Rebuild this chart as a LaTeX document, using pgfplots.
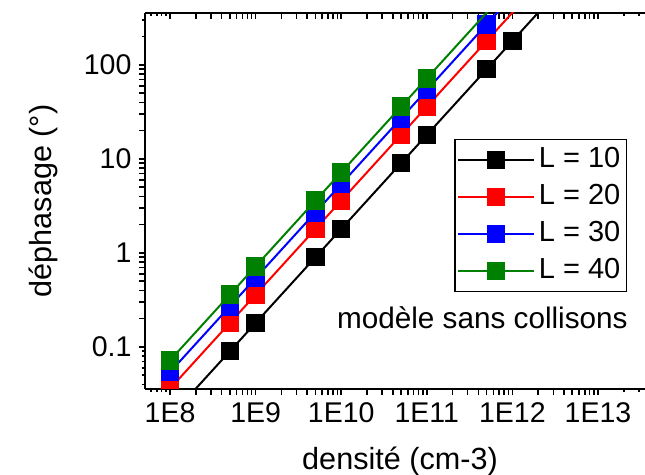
\documentclass[border=0pt]{standalone}
\usepackage{fontspec}
\setmainfont{Liberation Sans}
\usepackage{pgfplots}
\pgfplotsset{compat=1.18}

\definecolor{cgreen}{RGB}{0,128,0}
\newcommand\tl[1]{\mbox{\fontsize{14.25}{16}\selectfont #1}}

\pgfplotsset{
  every non boxed x axis/.append style={x axis line style=-},
  every non boxed y axis/.append style={y axis line style=-},
}

\begin{document}
\begin{tikzpicture}[font=\fontsize{14.25}{16}\selectfont]
% upper x line with inner ticks
\begin{axis}[
  axis x line=top, axis y line=none,
  xmode=log, ymode=log,
  scale only axis, width=250pt, height=188pt,
  xmin=5.1e7, xmax=3.54e13, ymin=0.0357, ymax=357,
  xtick={1e8,1e9,1e10,1e11,1e12,1e13},
  xticklabels={},
  extra x ticks={6e7,7e7,8e7,9e7,
    2e8,3e8,4e8,5e8,6e8,7e8,8e8,9e8,
    2e9,3e9,4e9,5e9,6e9,7e9,8e9,9e9,
    2e10,3e10,4e10,5e10,6e10,7e10,8e10,9e10,
    2e11,3e11,4e11,5e11,6e11,7e11,8e11,9e11,
    2e12,3e12,4e12,5e12,6e12,7e12,8e12,9e12,
    2e13,3e13},
  extra x tick labels={},
  extra x tick style={major tick length=1.75pt},
  major tick length=3.25pt,
  every tick/.style={black, line width=0.75pt},
  axis line style={-, line width=0.75pt},
  x axis line style={-},
  at={(0,0)}, anchor=south west,
  tick align=inside,
]
\end{axis}

\begin{axis}[
  axis x line=bottom, axis y line=left,
  xmode=log, ymode=log,
  scale only axis, width=250pt, height=188pt,
  xmin=5.1e7, xmax=3.54e13, ymin=0.0357, ymax=357,
  xtick={1e8,1e9,1e10,1e11,1e12,1e13},
  xticklabels={\tl{1E8},\tl{1E9},\tl{1E10},\tl{1E11},\tl{1E12},\tl{1E13}},
  extra x ticks={6e7,7e7,8e7,9e7,
    2e8,3e8,4e8,5e8,6e8,7e8,8e8,9e8,
    2e9,3e9,4e9,5e9,6e9,7e9,8e9,9e9,
    2e10,3e10,4e10,5e10,6e10,7e10,8e10,9e10,
    2e11,3e11,4e11,5e11,6e11,7e11,8e11,9e11,
    2e12,3e12,4e12,5e12,6e12,7e12,8e12,9e12,
    2e13,3e13},
  extra x tick labels={},
  extra x tick style={major tick length=1.75pt},
  ytick={0.1,1,10,100},
  yticklabels={\tl{0.1},\tl{1},\tl{10},\tl{100}},
  extra y ticks={0.04,0.05,0.06,0.07,0.08,0.09,
    0.2,0.3,0.4,0.5,0.6,0.7,0.8,0.9,
    2,3,4,5,6,7,8,9,
    20,30,40,50,60,70,80,90,
    200,300},
  extra y tick labels={},
  extra y tick style={major tick length=1.75pt},
  major tick length=3.25pt,
  every tick/.style={black, line width=0.75pt},
  axis line style={-, line width=0.75pt},
  x axis line style={-}, y axis line style={-},
  at={(0,0)}, anchor=south west,
  tick align=outside,
  xlabel={densité (cm-3)},
  ylabel={déphasage (°)},
  every axis x label/.style={at={(rel axis cs:0.51,0)}, yshift=-36pt, anchor=center,
    font=\fontsize{15.3}{17}\selectfont},
  every axis y label/.style={at={(rel axis cs:0,0.5)}, xshift=-51pt, rotate=90, anchor=center,
    font=\fontsize{15.3}{17}\selectfont},
  clip marker paths=true,
  every axis plot/.append style={line width=1pt, mark=square*, mark size=4.1pt, mark options={solid}},
  legend style={at={(rel axis cs:0.964,0.665)}, anchor=north east,
    draw=black, line width=0.6pt, inner sep=1pt,
    font=\fontsize{14.5}{17}\selectfont,
    nodes={inner sep=2pt, text height=11pt, text depth=3.5pt}},
  legend cell align=left,
  legend image code/.code={\draw[#1, mark repeat=2, mark phase=2]
    plot coordinates {(0pt,0pt) (19pt,0pt) (38pt,0pt)};},
]
\addplot[black] coordinates {
  (1e8,0.018) (5e8,0.09) (1e9,0.18) (5e9,0.9) (1e10,1.8) (5e10,9)
  (1e11,18) (5e11,90) (1e12,180) (5e12,900) (1e13,1800)};
\addlegendentry{L = 10}
\addplot[red] coordinates {
  (1e8,0.036) (5e8,0.18) (1e9,0.36) (5e9,1.8) (1e10,3.6) (5e10,18)
  (1e11,36) (5e11,180) (1e12,360) (5e12,1800) (1e13,3600)};
\addlegendentry{L = 20}
\addplot[blue] coordinates {
  (1e8,0.054) (5e8,0.27) (1e9,0.54) (5e9,2.7) (1e10,5.4) (5e10,27)
  (1e11,54) (5e11,270) (1e12,540) (5e12,2700) (1e13,5400)};
\addlegendentry{L = 30}
\addplot[cgreen] coordinates {
  (1e8,0.072) (5e8,0.36) (1e9,0.72) (5e9,3.6) (1e10,7.2) (5e10,36)
  (1e11,72) (5e11,360) (1e12,720) (5e12,3600) (1e13,7200)};
\addlegendentry{L = 40}
\node[anchor=base west, font=\fontsize{14.85}{17}\selectfont] at (rel axis cs:0.37,0.162) {modèle sans collisons};
\end{axis}
\pgfresetboundingbox
\path[use as bounding box] (-72.5pt,-43pt) rectangle (250pt,194.5pt);
\end{tikzpicture}
\end{document}
